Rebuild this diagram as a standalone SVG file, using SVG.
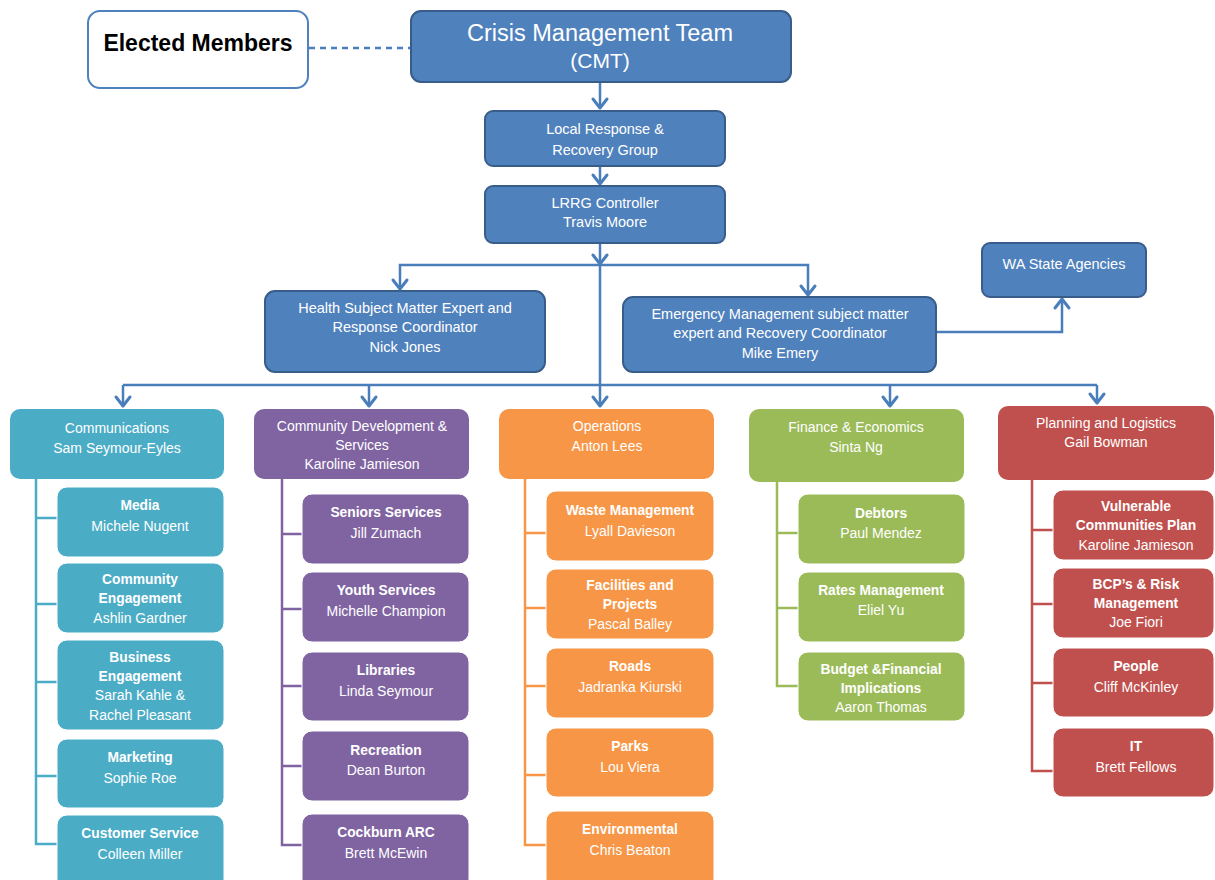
<svg xmlns="http://www.w3.org/2000/svg" width="1215" height="880" viewBox="0 0 1215 880">
<style>
text{font-family:"Liberation Sans",Arial,sans-serif;fill:#fff;text-anchor:middle}
.blue{fill:#4f81bd;stroke:#385d8a;stroke-width:2}
.hd{font-size:14px}
.tb{font-size:14.5px}
.b{font-weight:bold;font-size:13.8px}
.n{font-size:14px}
.conn{fill:none;stroke:#4a7ebb;stroke-width:2.5}
.teal{fill:#4bacc6}.purple{fill:#8064a2}.orange{fill:#f79646}.green{fill:#9bbb59}.red{fill:#c0504d}
.lt{fill:none;stroke:#4bacc6;stroke-width:2.5}.lp{fill:none;stroke:#8064a2;stroke-width:2.5}.lo{fill:none;stroke:#f79646;stroke-width:2.5}.lg{fill:none;stroke:#9bbb59;stroke-width:2.5}.lr{fill:none;stroke:#c0504d;stroke-width:2.5}
.child{stroke:#fff;stroke-width:1}
</style>
<defs>
<marker id="arr" markerUnits="userSpaceOnUse" markerWidth="20" markerHeight="20" refX="0" refY="0" orient="auto" overflow="visible">
<path d="M-9,-7 L0,0 L-9,7" fill="none" stroke="#4a7ebb" stroke-width="3" stroke-linejoin="round" stroke-linecap="round"/>
</marker>
</defs>

<g id="connectors">
<path d="M309,48 H410" class="conn" stroke-dasharray="6 5"/>
<path d="M600,82 V108" class="conn" marker-end="url(#arr)"/>
<path d="M600,166 V184" class="conn" marker-end="url(#arr)"/>
<path d="M600,243 V264" class="conn" marker-end="url(#arr)"/>
<path d="M600,265 H400 V289" class="conn" marker-end="url(#arr)"/>
<path d="M600,265 H808 V295" class="conn" marker-end="url(#arr)"/>
<path d="M936,332 H1062 V299" class="conn" marker-end="url(#arr)"/>
<path d="M600,265 V406" class="conn" marker-end="url(#arr)"/>
<path d="M123,385 H1097" class="conn"/>
<path d="M123,385 V406" class="conn" marker-end="url(#arr)"/>
<path d="M369,385 V406" class="conn" marker-end="url(#arr)"/>
<path d="M890,385 V406" class="conn" marker-end="url(#arr)"/>
<path d="M1097,385 V403" class="conn" marker-end="url(#arr)"/>
<path d="M36,479 V844 H57 M36,518 H57 M36,604 H57 M36,682 H57 M36,776 H57" class="lt"/>
<path d="M282,479 V845 H302 M282,534 H302 M282,609 H302 M282,686 H302 M282,766 H302" class="lp"/>
<path d="M525,479 V845 H546 M525,533 H546 M525,608 H546 M525,686 H546 M525,775 H546" class="lo"/>
<path d="M777,482 V686 H798 M777,533 H798 M777,608 H798" class="lg"/>
<path d="M1032,479 V771 H1053 M1032,530 H1053 M1032,604 H1053 M1032,683 H1053" class="lr"/>
</g>

<g id="elected">
<rect x="88" y="11" width="220" height="77" rx="12" fill="#fff" stroke="#4f81bd" stroke-width="2"/>
<text x="198" y="51" style="fill:#000;font-weight:bold;font-size:23px">Elected Members</text>
</g>
<g id="cmt">
<rect x="411" y="11" width="380" height="71" rx="10" class="blue"/>
<text x="600" y="41" style="font-size:23.5px">Crisis Management Team</text>
<text x="600" y="68" style="font-size:21px">(CMT)</text>
</g>
<g id="lrrg">
<rect x="485" y="111" width="240" height="55" rx="8" class="blue"/>
<text x="605" y="134" class="tb">Local Response &amp;</text>
<text x="605" y="155" class="tb">Recovery Group</text>
</g>
<g id="controller">
<rect x="485" y="186" width="240" height="57" rx="8" class="blue"/>
<text x="605" y="208" class="tb">LRRG Controller</text>
<text x="605" y="227" class="tb">Travis Moore</text>
</g>
<g id="health">
<rect x="265" y="291" width="280" height="81" rx="10" class="blue"/>
<text x="405" y="313" class="tb">Health Subject Matter Expert and</text>
<text x="405" y="332" class="tb">Response Coordinator</text>
<text x="405" y="352" class="tb">Nick Jones</text>
</g>
<g id="emergency">
<rect x="623" y="297" width="313" height="75" rx="10" class="blue"/>
<text x="780" y="319" class="tb">Emergency Management subject matter</text>
<text x="780" y="338" class="tb">expert and Recovery Coordinator</text>
<text x="780" y="358" class="tb">Mike Emery</text>
</g>
<g id="wa">
<rect x="982" y="243" width="164" height="54" rx="8" class="blue"/>
<text x="1064" y="269" class="tb">WA State Agencies</text>
</g>

<g id="communications">
<rect x="10" y="409" width="214" height="70" rx="10" class="teal"/>
<text x="117" y="433" class="hd">Communications</text>
<text x="117" y="453" class="hd">Sam Seymour-Eyles</text>
</g>
<g id="media"><rect x="57" y="487" width="167" height="70" rx="10" class="teal child"/>
<text x="140" y="510" class="b">Media</text><text x="140" y="531" class="n">Michele Nugent</text></g>
<g id="community-engagement"><rect x="57" y="563" width="167" height="70" rx="10" class="teal child"/>
<text x="140" y="584" class="b">Community</text><text x="140" y="603" class="b">Engagement</text><text x="140" y="623" class="n">Ashlin Gardner</text></g>
<g id="business-engagement"><rect x="57" y="640" width="167" height="90" rx="10" class="teal child"/>
<text x="140" y="662" class="b">Business</text><text x="140" y="681" class="b">Engagement</text><text x="140" y="700" class="n">Sarah Kahle &amp;</text><text x="140" y="720" class="n">Rachel Pleasant</text></g>
<g id="marketing"><rect x="57" y="739" width="167" height="69" rx="10" class="teal child"/>
<text x="140" y="762" class="b">Marketing</text><text x="140" y="783" class="n">Sophie Roe</text></g>
<g id="customer-service"><rect x="57" y="815" width="167" height="75" rx="10" class="teal child"/>
<text x="140" y="838" class="b">Customer Service</text><text x="140" y="859" class="n">Colleen Miller</text></g>

<g id="community-development">
<rect x="254" y="409" width="215" height="70" rx="10" class="purple"/>
<text x="362" y="431" class="hd">Community Development &amp;</text>
<text x="362" y="450" class="hd">Services</text>
<text x="362" y="469" class="hd">Karoline Jamieson</text>
</g>
<g id="seniors"><rect x="302" y="494" width="167" height="70" rx="10" class="purple child"/>
<text x="386" y="517" class="b">Seniors  Services</text><text x="386" y="538" class="n">Jill Zumach</text></g>
<g id="youth"><rect x="302" y="572" width="167" height="70" rx="10" class="purple child"/>
<text x="386" y="595" class="b">Youth  Services</text><text x="386" y="616" class="n">Michelle Champion</text></g>
<g id="libraries"><rect x="302" y="652" width="167" height="69" rx="10" class="purple child"/>
<text x="386" y="675" class="b">Libraries</text><text x="386" y="696" class="n">Linda Seymour</text></g>
<g id="recreation"><rect x="302" y="731" width="167" height="70" rx="10" class="purple child"/>
<text x="386" y="755" class="b">Recreation</text><text x="386" y="775" class="n">Dean Burton</text></g>
<g id="cockburn-arc"><rect x="302" y="814" width="167" height="75" rx="10" class="purple child"/>
<text x="386" y="837" class="b">Cockburn ARC</text><text x="386" y="858" class="n">Brett McEwin</text></g>

<g id="operations">
<rect x="499" y="409" width="215" height="70" rx="10" class="orange"/>
<text x="607" y="431" class="hd">Operations</text>
<text x="607" y="451" class="hd">Anton Lees</text>
</g>
<g id="waste"><rect x="546" y="491" width="168" height="70" rx="10" class="orange child"/>
<text x="630" y="515" class="b">Waste Management</text><text x="630" y="536" class="n">Lyall Davieson</text></g>
<g id="facilities"><rect x="546" y="569" width="168" height="70" rx="10" class="orange child"/>
<text x="630" y="590" class="b">Facilities and</text><text x="630" y="609" class="b">Projects</text><text x="630" y="629" class="n">Pascal Balley</text></g>
<g id="roads"><rect x="546" y="648" width="168" height="70" rx="10" class="orange child"/>
<text x="630" y="671" class="b">Roads</text><text x="630" y="692" class="n">Jadranka Kiurski</text></g>
<g id="parks"><rect x="546" y="728" width="168" height="69" rx="10" class="orange child"/>
<text x="630" y="751" class="b">Parks</text><text x="630" y="772" class="n">Lou Viera</text></g>
<g id="environmental"><rect x="546" y="811" width="168" height="78" rx="10" class="orange child"/>
<text x="630" y="834" class="b">Environmental</text><text x="630" y="855" class="n">Chris Beaton</text></g>

<g id="finance">
<rect x="749" y="409" width="215" height="73" rx="10" class="green"/>
<text x="856" y="432" class="hd">Finance &amp; Economics</text>
<text x="856" y="452" class="hd">Sinta Ng</text>
</g>
<g id="debtors"><rect x="798" y="494" width="167" height="70" rx="10" class="green child"/>
<text x="881" y="518" class="b">Debtors</text><text x="881" y="538" class="n">Paul Mendez</text></g>
<g id="rates"><rect x="798" y="572" width="167" height="70" rx="10" class="green child"/>
<text x="881" y="595" class="b">Rates Management</text><text x="881" y="615" class="n">Eliel Yu</text></g>
<g id="budget"><rect x="798" y="652" width="167" height="69" rx="10" class="green child"/>
<text x="881" y="674" class="b">Budget &amp;Financial</text><text x="881" y="693" class="b">Implications</text><text x="881" y="712" class="n">Aaron Thomas</text></g>

<g id="planning">
<rect x="998" y="406" width="216" height="74" rx="10" class="red"/>
<text x="1106" y="428" class="hd">Planning and Logistics</text>
<text x="1106" y="447" class="hd">Gail Bowman</text>
</g>
<g id="vulnerable"><rect x="1053" y="490" width="161" height="70" rx="10" class="red child"/>
<text x="1136" y="511" class="b">Vulnerable</text><text x="1136" y="530" class="b">Communities Plan</text><text x="1136" y="550" class="n">Karoline Jamieson</text></g>
<g id="bcp"><rect x="1053" y="568" width="161" height="70" rx="10" class="red child"/>
<text x="1136" y="589" class="b">BCP’s &amp; Risk</text><text x="1136" y="608" class="b">Management</text><text x="1136" y="627" class="n">Joe Fiori</text></g>
<g id="people"><rect x="1053" y="648" width="161" height="69" rx="10" class="red child"/>
<text x="1136" y="671" class="b">People</text><text x="1136" y="692" class="n">Cliff McKinley</text></g>
<g id="it"><rect x="1053" y="728" width="161" height="69" rx="10" class="red child"/>
<text x="1136" y="751" class="b">IT</text><text x="1136" y="772" class="n">Brett Fellows</text></g>
</svg>
